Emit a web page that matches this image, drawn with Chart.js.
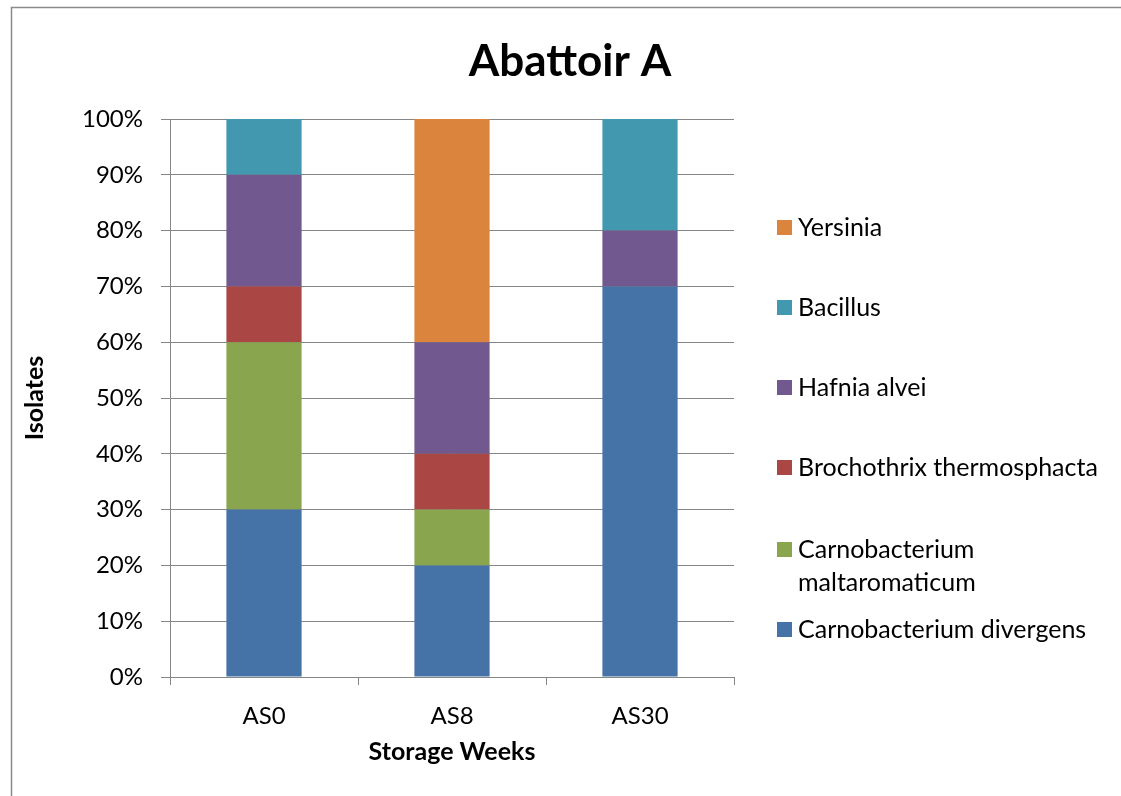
<!DOCTYPE html>
<html>
<head>
<meta charset="utf-8">
<script src="https://cdn.jsdelivr.net/npm/chart.js@4/dist/chart.umd.min.js"></script>
<style>
  html, body { margin: 0; padding: 0; background: #fff; }
  #wrap { width: 1121px; height: 796px; position: relative; }
</style>
</head>
<body>
<div id="wrap"><canvas id="c" width="1121" height="796"></canvas></div>
<script>
const categories = ['AS0', 'AS8', 'AS30'];
const seriesNames = ['Carnobacterium divergens', 'Carnobacterium\nmaltaromaticum', 'Brochothrix thermosphacta', 'Hafnia alvei', 'Bacillus', 'Yersinia'];
const seriesColors = ['#4572A7', '#89A54E', '#AA4643', '#71588F', '#4198AF', '#DB843D'];
const divergens = [30, 20, 70];
const maltaromaticum = [30, 10, 0];
const brochothrix = [10, 10, 0];
const hafnia = [20, 20, 10];
const bacillus = [10, 0, 20];
const yersinia = [0, 40, 0];
const seriesValues = [divergens, maltaromaticum, brochothrix, hafnia, bacillus, yersinia];
const yTicks = [0, 10, 20, 30, 40, 50, 60, 70, 80, 90, 100];

const FONT = 'Lato, Carlito, "Liberation Sans", sans-serif';

const framePlugin = {
  id: 'frame',
  beforeDraw(chart) {
    const ctx = chart.ctx;
    ctx.save();
    ctx.fillStyle = '#fff';
    ctx.fillRect(0, 0, chart.width, chart.height);
    ctx.strokeStyle = '#8a8a8a';
    ctx.lineWidth = 1.5;
    ctx.beginPath();
    ctx.moveTo(11.5, 800);
    ctx.lineTo(11.5, 7.5);
    ctx.lineTo(1125, 7.5);
    ctx.stroke();
    ctx.restore();
  }
};

const titlePlugin = {
  id: 'customTitle',
  afterDraw(chart) {
    const ctx = chart.ctx;
    ctx.save();
    ctx.font = 'bold 44px ' + FONT;
    ctx.fillStyle = '#000';
    ctx.textAlign = 'center';
    ctx.textBaseline = 'middle';
    ctx.fillText('Abattoir A', 570, 62);
    ctx.restore();
  }
};

const legendPlugin = {
  id: 'customLegend',
  afterDraw(chart) {
    const ctx = chart.ctx;
    const ds = chart.data.datasets;
    ctx.save();
    ctx.font = '25px ' + FONT;
    ctx.textBaseline = 'middle';
    ctx.textAlign = 'left';
    const ys = [228, 308, 388, 468, 550, 630];
    for (let k = 0; k < ds.length; k++) {
      const d = ds[ds.length - 1 - k];
      const y = ys[k];
      ctx.fillStyle = d.backgroundColor;
      ctx.fillRect(777, y - 8, 15, 15);
      ctx.fillStyle = '#000';
      const lines = d.label.split('\n');
      lines.forEach((ln, i) => ctx.fillText(ln, 798, y + i * 33));
    }
    ctx.restore();
  }
};

new Chart(document.getElementById('c'), {
  type: 'bar',
  data: {
    labels: categories,
    datasets: seriesNames.map((n, i) => ({
      label: n,
      data: seriesValues[i],
      backgroundColor: seriesColors[i],
      borderWidth: 0,
      categoryPercentage: 1,
      barPercentage: 0.4
    }))
  },
  plugins: [framePlugin, titlePlugin, legendPlugin],
  options: {
    responsive: false,
    animation: false,
    devicePixelRatio: 1,
    layout: { padding: { left: 12, top: 119, right: 387, bottom: 0 } },
    plugins: { legend: { display: false }, title: { display: false }, tooltip: { enabled: false } },
    scales: {
      x: {
        stacked: true,
        offset: true,
        afterFit(s) { s.height = 119; },
        grid: { display: true, drawOnChartArea: false, drawTicks: true, tickLength: 8, color: '#868686', offset: true },
        border: { display: true, color: '#868686', width: 1 },
        ticks: { color: '#000', font: { family: FONT, size: 24 }, padding: 17 },
        title: { display: true, text: 'Storage Weeks', color: '#000', font: { family: FONT, size: 25, weight: 'bold' }, padding: { top: 0, bottom: 29 } }
      },
      y: {
        stacked: true,
        min: 0,
        max: 100,
        afterFit(s) { s.width = 158; },
        afterBuildTicks(s) { s.ticks = yTicks.map(v => ({ value: v })); },
        grid: { color: '#868686', lineWidth: 1, drawTicks: true, tickLength: 9 },
        border: { display: true, color: '#868686', width: 1 },
        ticks: { color: '#000', font: { family: FONT, size: 24 }, padding: 18, callback: v => v + '%' },
        title: { display: true, text: 'Isolates', color: '#000', font: { family: FONT, size: 25, weight: 'bold' }, padding: { top: 8, bottom: 0 } }
      }
    }
  }
});
</script>
</body>
</html>
